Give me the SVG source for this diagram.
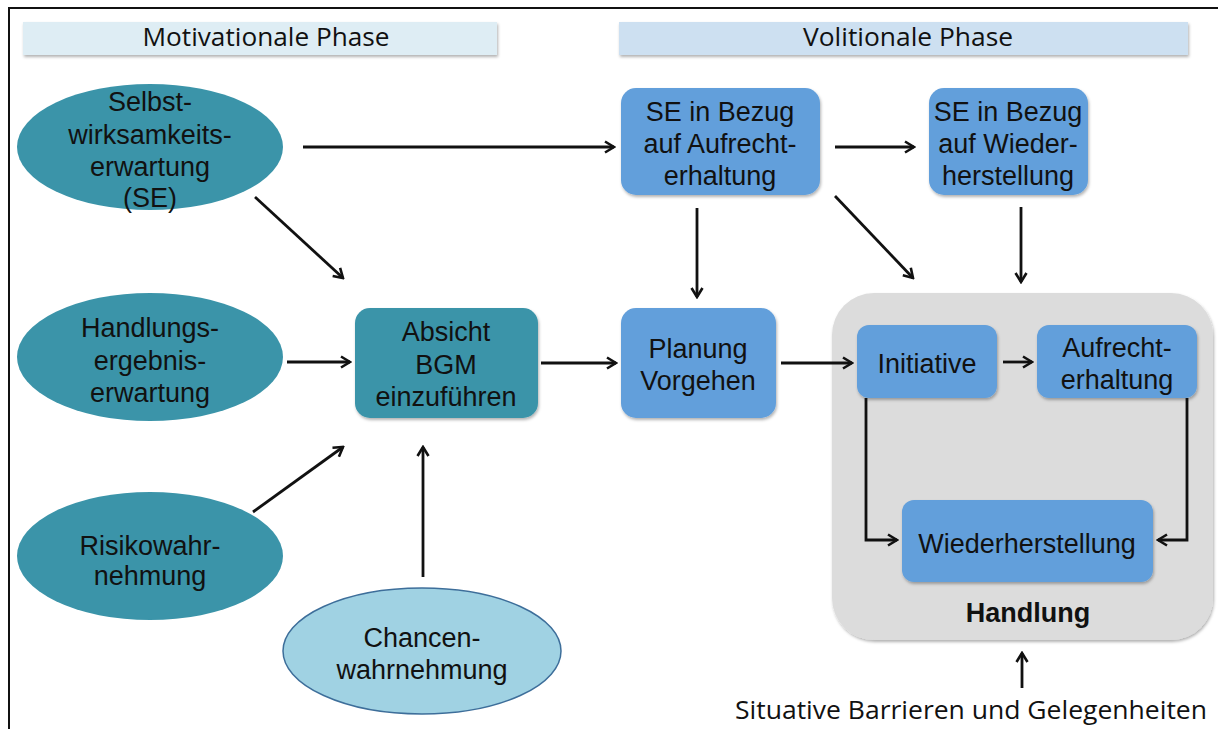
<svg xmlns="http://www.w3.org/2000/svg" width="1218" height="729" viewBox="0 0 1218 729">
<style>
.t{font-family:"Liberation Sans",Arial,sans-serif;font-size:27px;fill:#111;text-anchor:middle}
.h{font-family:"Open Sans",Lato,sans-serif;font-size:25px;fill:#111;text-anchor:middle}
.teal{fill:#3b94a9}
.blue{fill:#629fdb}
.c{stroke:#111;stroke-width:2.8;fill:none;marker-end:url(#ah)}
</style>
<defs>
<marker id="ah" viewBox="0 0 14 14" refX="12" refY="7" markerWidth="14" markerHeight="14" markerUnits="userSpaceOnUse" orient="auto">
<path d="M3,1.5 L12,7 L3,12.5" fill="none" stroke="#111" stroke-width="2.6"/>
</marker>
<filter id="sh" x="-10%" y="-10%" width="125%" height="130%">
<feDropShadow dx="1" dy="2" stdDeviation="1.5" flood-color="#000" flood-opacity="0.3"/>
</filter>
</defs>
<rect width="1218" height="729" fill="#fff"/>
<path d="M9,729 V8 H1218" fill="none" stroke="#111" stroke-width="2"/>

<g id="hdr-motiv">
<rect x="23" y="22" width="474" height="33" fill="#deedf4" filter="url(#sh)"/>
<text class="h" x="266" y="46" textLength="247" lengthAdjust="spacingAndGlyphs">Motivationale Phase</text>
</g>
<g id="hdr-volit">
<rect x="619" y="22" width="569" height="33" fill="#cde0f1" filter="url(#sh)"/>
<text class="h" x="908" y="46" textLength="210" lengthAdjust="spacingAndGlyphs">Volitionale Phase</text>
</g>

<g id="handlung">
<rect x="832" y="293" width="381" height="347" rx="42" fill="#dcdcdc" filter="url(#sh)"/>
<text class="t" x="1028" y="622" font-weight="bold" font-size="25">Handlung</text>
</g>

<g id="se">
<ellipse cx="150" cy="147" rx="133" ry="63" class="teal"/>
<text class="t" x="150" y="111">Selbst-</text>
<text class="t" x="150" y="144">wirksamkeits-</text>
<text class="t" x="150" y="176">erwartung</text>
<text class="t" x="150" y="207">(SE)</text>
</g>
<g id="hee">
<ellipse cx="150" cy="357" rx="133" ry="64" class="teal"/>
<text class="t" x="150" y="337">Handlungs-</text>
<text class="t" x="150" y="370">ergebnis-</text>
<text class="t" x="150" y="402">erwartung</text>
</g>
<g id="risiko">
<ellipse cx="150" cy="556" rx="133" ry="64" class="teal"/>
<text class="t" x="150" y="555">Risikowahr-</text>
<text class="t" x="150" y="585">nehmung</text>
</g>
<g id="chancen">
<ellipse cx="422" cy="651" rx="139" ry="63" fill="#a0d2e3" stroke="#3d6e9a" stroke-width="1.5"/>
<text class="t" x="422" y="647">Chancen-</text>
<text class="t" x="422" y="679">wahrnehmung</text>
</g>
<g id="absicht">
<rect x="355" y="308" width="183" height="110" rx="15" class="teal" filter="url(#sh)"/>
<text class="t" x="446" y="341">Absicht</text>
<text class="t" x="446" y="374">BGM</text>
<text class="t" x="446" y="406">einzuführen</text>
</g>
<g id="planung">
<rect x="621" y="308" width="155" height="110" rx="15" class="blue" filter="url(#sh)"/>
<text class="t" x="698" y="358">Planung</text>
<text class="t" x="698" y="390">Vorgehen</text>
</g>
<g id="se-aufrecht">
<rect x="621" y="88" width="199" height="107" rx="15" class="blue" filter="url(#sh)"/>
<text class="t" x="720" y="121">SE in Bezug</text>
<text class="t" x="720" y="153">auf Aufrecht-</text>
<text class="t" x="720" y="185">erhaltung</text>
</g>
<g id="se-wieder">
<rect x="929" y="88" width="159" height="107" rx="15" class="blue" filter="url(#sh)"/>
<text class="t" x="1008" y="121">SE in Bezug</text>
<text class="t" x="1008" y="153">auf Wieder-</text>
<text class="t" x="1008" y="185">herstellung</text>
</g>
<g id="initiative">
<rect x="857" y="325" width="140" height="73" rx="12" class="blue" filter="url(#sh)"/>
<text class="t" x="927" y="373">Initiative</text>
</g>
<g id="aufrecht">
<rect x="1037" y="325" width="160" height="73" rx="12" class="blue" filter="url(#sh)"/>
<text class="t" x="1117" y="357">Aufrecht-</text>
<text class="t" x="1117" y="389">erhaltung</text>
</g>
<g id="wieder">
<rect x="902" y="500" width="251" height="82" rx="12" class="blue" filter="url(#sh)"/>
<text class="t" x="1027" y="553">Wiederherstellung</text>
</g>
<g id="situativ">
<text class="h" x="971" y="719" textLength="472" lengthAdjust="spacingAndGlyphs">Situative Barrieren und Gelegenheiten</text>
</g>

<g id="connectors">
<path class="c" d="M255,197 L343,278"/>
<path class="c" d="M287,362 L350,362"/>
<path class="c" d="M253,512 L343,447"/>
<path class="c" d="M423,577 L423,447"/>
<path class="c" d="M541,363 L616,363"/>
<path class="c" d="M303,147 L614,147"/>
<path class="c" d="M835,147 L914,147"/>
<path class="c" d="M697,208 L697,297"/>
<path class="c" d="M835,196 L913,278"/>
<path class="c" d="M1021,207 L1021,282"/>
<path class="c" d="M781,363 L852,363"/>
<path class="c" d="M1003,362 L1032,362"/>
<path class="c" d="M866,398 V540 H897"/>
<path class="c" d="M1187,398 V540 H1158"/>
<path class="c" d="M1022,688 L1022,653"/>
</g>
</svg>
